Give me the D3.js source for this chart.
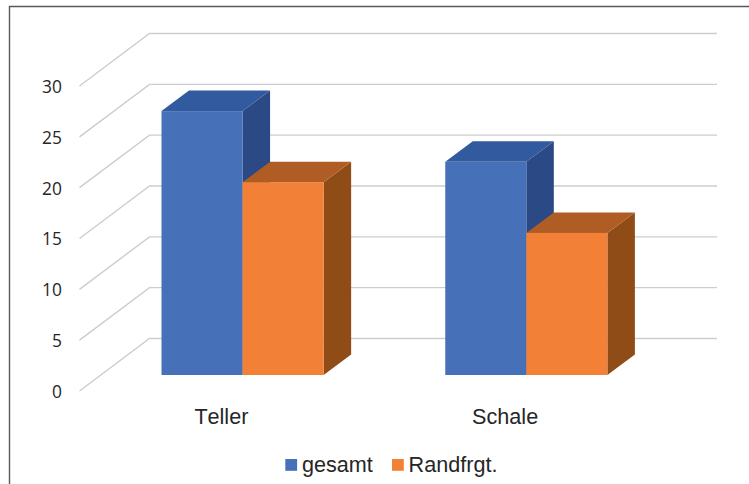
<!DOCTYPE html>
<html><head><meta charset="utf-8">
<script src="https://cdn.jsdelivr.net/npm/d3@7"></script>
<style>html,body{margin:0;padding:0;background:#fff}svg{display:block}</style>
</head><body><svg id="c" width="749" height="484"></svg>
<script>
const categories = ["Teller", "Schale"];
const seriesNames = ["gesamt", "Randfrgt."];
const gesamt = [26, 21];
const randfrgt = [19, 14];
const yTicks = [0, 5, 10, 15, 20, 25, 30];
const frontColors = ["#4671B8", "#F38037"];
const topColors = ["#325A9F", "#B05D25"];
const sideColors = ["#2B4985", "#8F4C17"];

const svg = d3.select("#c");
const series = [gesamt, randfrgt];

// frame (left + top only, cropped by the page)
svg.append("path").attr("d", "M9.5,484V6.5H749").attr("fill", "none").attr("stroke", "#595959").attr("stroke-width", 1.4);

// scales
const yFront = d3.scaleLinear().domain([0, 30]).range([391, 86]);
const yBar = d3.scaleLinear().domain([0, 30]).range([375, 70.5]);
const xCat = d3.scaleBand().domain(categories).range([79.5, 647]);
const wallDx = 70, wallDy = -52.5, barDx = 27.5, barDy = -20.5, planeDx = 21.2;
const xBar = d3.scaleBand().domain(categories).range([79.5 + planeDx, 647 + planeDx]).paddingInner(0.4286).paddingOuter(0.2143);
const xSeries = d3.scaleBand().domain([0, 1]).range([0, xBar.bandwidth()]);

// gridlines
svg.append("g").selectAll("path").data(yTicks).join("path")
  .attr("d", d => {
    const p = d3.path();
    p.moveTo(79.5, yFront(d));
    p.lineTo(79.5 + wallDx, yFront(d) + wallDy);
    p.lineTo(717, yFront(d) + wallDy);
    return p.toString();
  })
  .attr("fill", "none").attr("stroke", "#CDCDCD").attr("stroke-width", 1.4);

// y axis labels
const yAxis = d3.axisLeft(yFront).tickValues(yTicks).tickSize(0).tickPadding(0);
const gy = svg.append("g").attr("transform", "translate(62,0.8)").call(yAxis);
gy.select(".domain").remove();
gy.selectAll("text").attr("font-family", "'Open Sans'").attr("font-size", 17.4).attr("fill", "#262626");

// bars
categories.forEach((c, i) => {
  series.forEach((vals, s) => {
    const x0 = xBar(c) + xSeries(s), x1 = x0 + xSeries.bandwidth();
    const yT = yBar(vals[i]), yB = yBar(0);
    const g = svg.append("g");
    const poly = pts => pts.map(p => p.join(",")).join(" ");
    g.append("polygon").attr("fill", sideColors[s])
      .attr("points", poly([[x1, yT], [x1 + barDx, yT + barDy], [x1 + barDx, yB + barDy], [x1, yB]]));
    g.append("polygon").attr("fill", topColors[s])
      .attr("points", poly([[x0, yT], [x0 + barDx, yT + barDy], [x1 + barDx, yT + barDy], [x1, yT]]));
    g.append("rect").attr("x", x0).attr("y", yT).attr("width", x1 - x0).attr("height", yB - yT).attr("fill", frontColors[s]);
  });
});

// category labels
svg.append("g").selectAll("text").data(categories).join("text")
  .attr("x", d => xCat(d) + xCat.bandwidth() / 2)
  .attr("y", 423.5).attr("text-anchor", "middle")
  .attr("font-family", "'Liberation Sans'").attr("font-size", 21.6).attr("fill", "#262626")
  .style("font-kerning", "none")
  .text(d => d);

// legend
const legendX = [285.3, 392];
const lg = svg.append("g").selectAll("g").data(seriesNames).join("g")
  .attr("transform", (d, i) => `translate(${legendX[i]},0)`);
lg.append("rect").attr("y", 459).attr("width", 11.8).attr("height", 11.8).attr("fill", (d, i) => frontColors[i]);
lg.append("text").attr("x", 16.6).attr("y", 471.5)
  .attr("font-family", "'Liberation Sans'").attr("font-size", 21.6).attr("fill", "#262626")
  .text(d => d);
</script></body></html>
